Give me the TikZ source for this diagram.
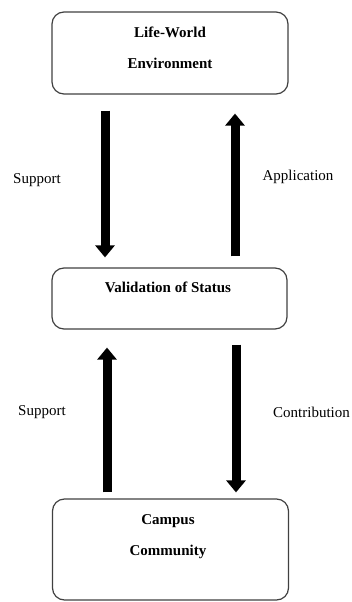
\documentclass[tikz,border=0pt]{standalone}
\usepackage{fontspec}
\setmainfont{Liberation Serif}
\usetikzlibrary{arrows.meta}
\begin{document}
\begin{tikzpicture}[x=1pt,y=-1pt,
  box/.style={draw=black!75, line width=1.2pt, rounded corners=12pt, inner sep=0pt},
  boxtext/.style={font=\fontsize{15}{31}\selectfont\bfseries, align=center, inner sep=0pt},
  lbl/.style={font=\fontsize{15}{18}\selectfont, inner sep=0pt},
  bigarrow/.style={line width=9pt, -{Triangle[width=19pt,length=12pt]}}]
\useasboundingbox (0,0) rectangle (351,602);
% boxes
\node[box, minimum width=236pt, minimum height=82pt] (top) at (170,53) {};
\node[boxtext] (toptext) at (170,48) {Life-World\\Environment};
\node[box, minimum width=235pt, minimum height=61pt] (mid) at (169.5,298.5) {};
\node[boxtext] (midtext) at (168,287) {Validation of Status};
\node[box, minimum width=236pt, minimum height=101pt] (bot) at (170.5,549.5) {};
\node[boxtext] (bottext) at (168,537) {Campus\\Community};
% arrow columns
\coordinate (c1) at (105,0);
\coordinate (c2) at (235,0);
\coordinate (c3) at (107,0);
\coordinate (c4) at (236,0);
\draw[bigarrow, shorten <=16pt, shorten >=10pt] (top.south -| c1) -- (mid.north -| c1);
\draw[bigarrow, shorten <=11pt, shorten >=19pt] (mid.north -| c2) -- (top.south -| c2);
\draw[bigarrow, shorten <=6pt, shorten >=18pt] (bot.north -| c3) -- (mid.south -| c3);
\draw[bigarrow, shorten <=15pt, shorten >=6pt] (mid.south -| c4) -- (bot.north -| c4);
% labels
\node[lbl] (l1) at (37,180) {Support};
\node[lbl] (l2) at (298,177) {Application};
\node[lbl] (l3) at (42,412) {Support};
\node[lbl, anchor=west] (l4) at (273,412) {Contribution};
\end{tikzpicture}
\end{document}
